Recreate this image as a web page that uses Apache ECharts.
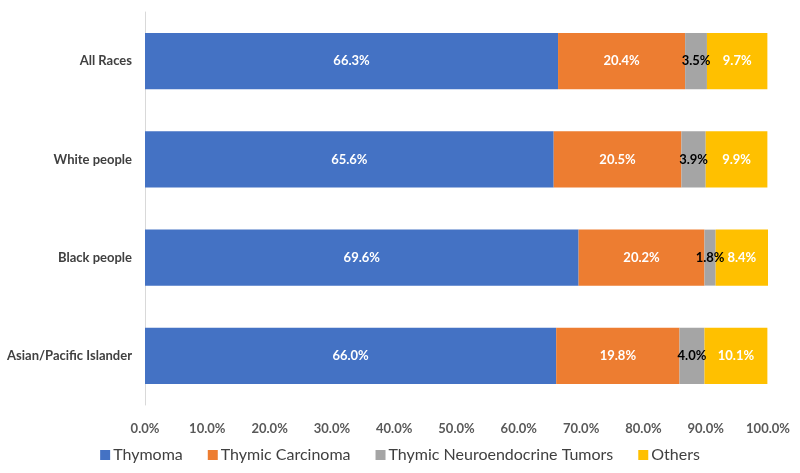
<!DOCTYPE html>
<html><head><meta charset="utf-8">
<script src="https://cdn.jsdelivr.net/npm/echarts@6/dist/echarts.min.js"></script>
<style>html,body{margin:0;padding:0;background:#fff}#c{width:800px;height:473px}</style>
</head><body><div id="c"></div>
<script>
const categories = ["All Races", "White people", "Black people", "Asian/Pacific Islander"];
const thymoma = [66.3, 65.6, 69.6, 66.0];
const carcinoma = [20.4, 20.5, 20.2, 19.8];
const neuroendocrine = [3.5, 3.9, 1.8, 4.0];
const others = [9.7, 9.9, 8.4, 10.1];
const seriesNames = ["Thymoma", "Thymic Carcinoma", "Thymic Neuroendocrine Tumors", "Others"];
const colors = ["#4472C4", "#ED7D31", "#A5A5A5", "#FFC000"];
const labelColors = ["#ffffff", "#ffffff", "#000000", "#ffffff"];
const FONT = "Lato";
const chart = echarts.init(document.getElementById('c'), null, {renderer: 'canvas'});
const dataSets = [thymoma, carcinoma, neuroendocrine, others];
chart.setOption({
  animation: false,
  textStyle: {fontFamily: FONT},
  grid: {left: 145, right: 32, top: 12, bottom: 68, containLabel: false},
  xAxis: {
    type: 'value', min: 0, max: 100, interval: 10,
    axisLine: {show: false}, axisTick: {show: false}, splitLine: {show: false},
    axisLabel: {formatter: v => v.toFixed(1) + '%', color: '#595959', fontWeight: 'bold', fontSize: 13, fontFamily: FONT, margin: 17}
  },
  yAxis: {
    type: 'category', data: categories, inverse: true,
    axisLine: {show: true, lineStyle: {color: '#D9D9D9', width: 1}},
    axisTick: {show: false},
    axisLabel: {color: '#404040', fontWeight: 'bold', fontSize: 13, fontFamily: FONT, margin: 13}
  },
  legend: {
    bottom: 5, left: 'center', itemWidth: 10, itemHeight: 10, itemGap: 25, icon: 'rect',
    textStyle: {fontSize: 16, color: '#404040', fontFamily: FONT, padding: [0, 0, 0, -2]},
    data: seriesNames
  },
  series: dataSets.map((d, i) => ({
    name: seriesNames[i], type: 'bar', stack: 'total', data: d, barWidth: '57%',
    itemStyle: {color: colors[i]},
    label: {show: true, position: 'inside', formatter: p => p.value.toFixed(1) + '%', color: labelColors[i], fontWeight: 'bold', fontSize: 13, fontFamily: FONT}
  }))
});
</script></body></html>
